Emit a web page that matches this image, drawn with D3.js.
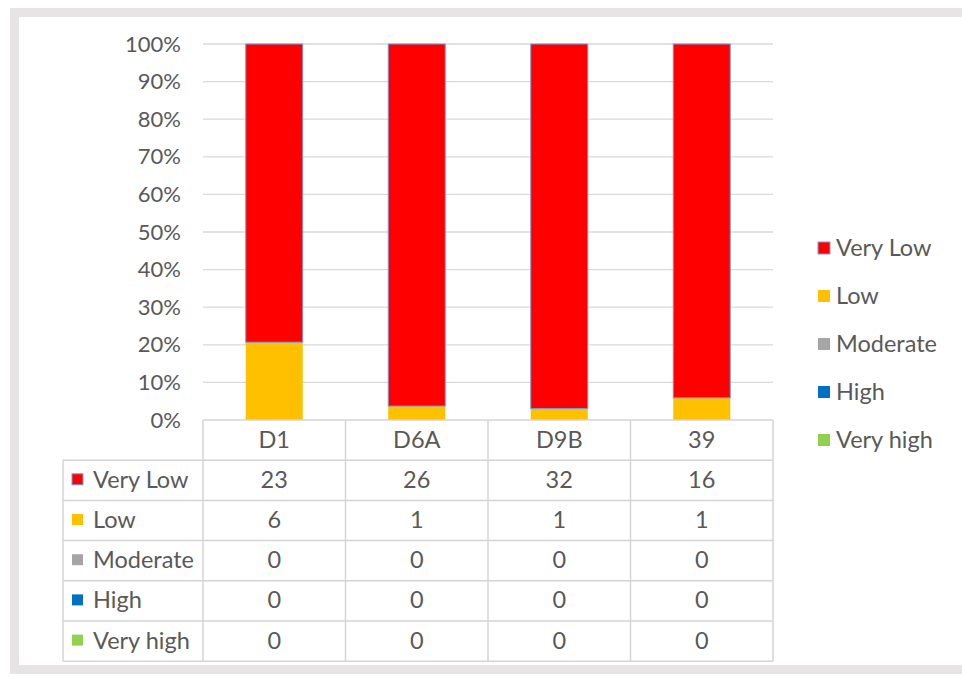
<!DOCTYPE html>
<html>
<head>
<meta charset="utf-8">
<script src="https://cdn.jsdelivr.net/npm/d3@7/dist/d3.min.js"></script>
<style>
  html, body { margin: 0; padding: 0; background: #ffffff; }
  svg { display: block; }
  text { font-family: Lato, "Open Sans", sans-serif; fill: #595959; }
</style>
</head>
<body>
<svg id="chart" width="962" height="677"></svg>
<script>
// Sites and class counts
const categories = ["D1", "D6A", "D9B", "39"];
const seriesNames = ["Very Low", "Low", "Moderate", "High", "Very high"];
const seriesColors = ["#ff0000", "#ffc000", "#a5a5a5", "#0070c0", "#92d050"];
const veryLow  = [23, 26, 32, 16];
const low      = [6, 1, 1, 1];
const moderate = [0, 0, 0, 0];
const high     = [0, 0, 0, 0];
const veryHigh = [0, 0, 0, 0];
const yTicks = [0, 0.1, 0.2, 0.3, 0.4, 0.5, 0.6, 0.7, 0.8, 0.9, 1.0];

const seriesValues = [veryLow, low, moderate, high, veryHigh];
const colorOf = {};
seriesNames.forEach((s, k) => { colorOf[s] = seriesColors[k]; });
const rows = categories.map((c, i) => {
  const r = { cat: c };
  seriesNames.forEach((s, k) => { r[s] = seriesValues[k][i]; });
  return r;
});

const FS_AXIS = "22px";
const FS = "23.5px";
const svg = d3.select("#chart");

// outer frame
svg.append("rect").attr("x", 10).attr("y", 8).attr("width", 970).attr("height", 666)
  .attr("fill", "#e6e4e4");
svg.append("rect").attr("x", 19).attr("y", 17).attr("width", 960).attr("height", 648)
  .attr("fill", "#ffffff");

const plot = { left: 203, right: 773, top: 44, bottom: 420 };

const x = d3.scaleBand().domain(categories).range([plot.left, plot.right]).paddingInner(0).paddingOuter(0);
const y = d3.scaleLinear().domain([0, 1]).range([plot.bottom, plot.top]);

// gridlines
svg.append("g").selectAll("line").data(yTicks.filter(t => t > 0)).join("line")
  .attr("x1", plot.left).attr("x2", plot.right)
  .attr("y1", d => y(d)).attr("y2", d => y(d))
  .attr("stroke", "#d9d9d9").attr("stroke-width", 1.3);

// y axis labels
const yAxis = d3.axisLeft(y).tickValues(yTicks).tickFormat(d3.format(".0%")).tickSize(0).tickPadding(22);
const gy = svg.append("g").attr("transform", `translate(${plot.left},0)`).call(yAxis);
gy.select(".domain").remove();
gy.selectAll("text").style("font-size", FS_AXIS).attr("fill", "#595959")
  .style("font-family", "Lato, 'Open Sans', sans-serif");

// stacked, normalised bars: "Very Low" sits on top of the stack
const stack = d3.stack().keys(seriesNames.slice().reverse()).offset(d3.stackOffsetExpand);
const layers = stack(rows);
const barW = x.bandwidth() * 0.4;
svg.append("g").selectAll("g").data(layers).join("g")
  .attr("fill", d => colorOf[d.key])
  .attr("stroke", d => d.key === "Very Low" ? "#6f9fd8" : "none")
  .attr("stroke-width", 1)
  .selectAll("rect").data(d => d).join("rect")
  .attr("x", d => x(d.data.cat) + (x.bandwidth() - barW) / 2)
  .attr("y", d => y(d[1]))
  .attr("width", barW)
  .attr("height", d => y(d[0]) - y(d[1]));

// data table
const tableLeft = 63;
const rowH = 40.2;
const lineColor = "#d4d4d4";
const tg = svg.append("g");
// header row (categories)
categories.forEach(c => {
  tg.append("text").attr("x", x(c) + x.bandwidth() / 2).attr("y", plot.bottom + rowH / 2 - 1.5)
    .attr("text-anchor", "middle").attr("dominant-baseline", "central")
    .style("font-size", FS).text(c);
});
// body rows
seriesNames.forEach((s, k) => {
  const cy = plot.bottom + rowH * (k + 1) + rowH / 2;
  tg.append("rect").attr("x", 72).attr("y", cy - 6.5).attr("width", 11).attr("height", 11)
    .attr("fill", seriesColors[k])
    .attr("stroke", k === 0 ? "#6f9fd8" : "none").attr("stroke-width", 1);
  tg.append("text").attr("x", 93).attr("y", cy - 1.5).attr("dominant-baseline", "central")
    .style("font-size", FS).text(s);
  categories.forEach((c, i) => {
    tg.append("text").attr("x", x(c) + x.bandwidth() / 2).attr("y", cy - 1.5)
      .attr("text-anchor", "middle").attr("dominant-baseline", "central")
      .style("font-size", FS).text(seriesValues[k][i]);
  });
});
// table grid lines
const tableBottom = plot.bottom + rowH * 6;
for (let r = 0; r <= 6; r++) {
  const yy = plot.bottom + rowH * r;
  tg.append("line").attr("x1", r === 0 ? plot.left : tableLeft).attr("x2", plot.right)
    .attr("y1", yy).attr("y2", yy).attr("stroke", lineColor).attr("stroke-width", 1.5);
}
tg.append("line").attr("x1", tableLeft).attr("x2", tableLeft)
  .attr("y1", plot.bottom + rowH).attr("y2", tableBottom).attr("stroke", lineColor).attr("stroke-width", 1.5);
[plot.left, ...categories.map(c => x(c) + x.bandwidth())].forEach(xx => {
  tg.append("line").attr("x1", xx).attr("x2", xx)
    .attr("y1", plot.bottom).attr("y2", tableBottom).attr("stroke", lineColor).attr("stroke-width", 1.5);
});

// legend
const lg = svg.append("g");
seriesNames.forEach((s, k) => {
  const cy = 248 + k * 48;
  lg.append("rect").attr("x", 818).attr("y", cy - 6).attr("width", 12).attr("height", 12)
    .attr("fill", seriesColors[k])
    .attr("stroke", k === 0 ? "#6f9fd8" : "none").attr("stroke-width", 1);
  lg.append("text").attr("x", 836).attr("y", cy - 1).attr("dominant-baseline", "central")
    .style("font-size", FS).text(s);
});
</script>
</body>
</html>
